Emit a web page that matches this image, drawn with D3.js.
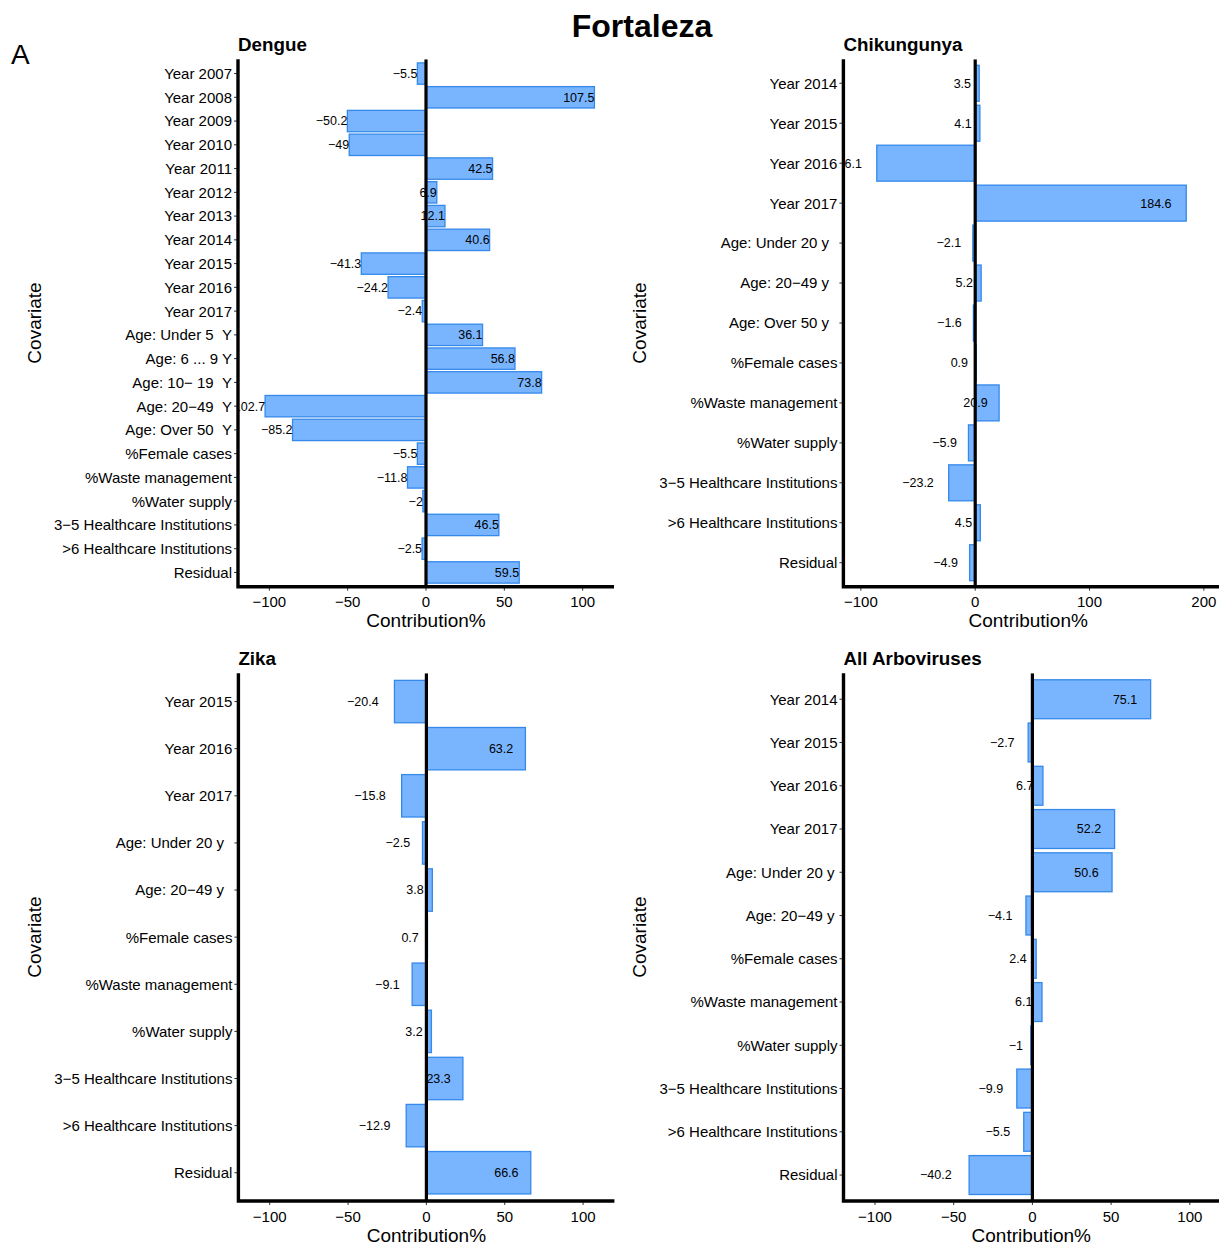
<!DOCTYPE html>
<html>
<head>
<meta charset="utf-8">
<script src="https://cdn.jsdelivr.net/npm/d3@7"></script>
<style>
  html, body { margin: 0; padding: 0; background: #ffffff; }
  svg { display: block; }
  text { font-family: "Liberation Sans", Arial, Helvetica, sans-serif; fill: #000; }
</style>
</head>
<body>
<svg id="chart" width="1219" height="1246"></svg>
<script>
// Covariate contributions (%) to arbovirus cases in Fortaleza
const dengueCategories = ["Year 2007", "Year 2008", "Year 2009", "Year 2010", "Year 2011", "Year 2012",
  "Year 2013", "Year 2014", "Year 2015", "Year 2016", "Year 2017",
  "Age: Under 5\u00a0\u00a0Y", "Age: 6 ... 9 Y", "Age: 10\u2212 19\u00a0\u00a0Y", "Age: 20\u221249\u00a0\u00a0Y",
  "Age: Over 50\u00a0\u00a0Y", "%Female cases", "%Waste management", "%Water supply",
  "3\u22125 Healthcare Institutions", ">6 Healthcare Institutions", "Residual"];
const dengueValues = [-5.5, 107.5, -50.2, -49, 42.5, 6.9, 12.1, 40.6, -41.3, -24.2, -2.4,
  36.1, 56.8, 73.8, -102.7, -85.2, -5.5, -11.8, -2, 46.5, -2.5, 59.5];

const chikCategories = ["Year 2014", "Year 2015", "Year 2016", "Year 2017",
  "Age: Under 20 y\u00a0\u00a0", "Age: 20\u221249 y\u00a0\u00a0", "Age: Over 50 y\u00a0\u00a0",
  "%Female cases", "%Waste management", "%Water supply",
  "3\u22125 Healthcare Institutions", ">6 Healthcare Institutions", "Residual"];
const chikValues = [3.5, 4.1, -86.1, 184.6, -2.1, 5.2, -1.6, 0.9, 20.9, -5.9, -23.2, 4.5, -4.9];

const zikaCategories = ["Year 2015", "Year 2016", "Year 2017",
  "Age: Under 20 y\u00a0\u00a0", "Age: 20\u221249 y\u00a0\u00a0",
  "%Female cases", "%Waste management", "%Water supply",
  "3\u22125 Healthcare Institutions", ">6 Healthcare Institutions", "Residual"];
const zikaValues = [-20.4, 63.2, -15.8, -2.5, 3.8, 0.7, -9.1, 3.2, 23.3, -12.9, 66.6];

const arboCategories = ["Year 2014", "Year 2015", "Year 2016", "Year 2017",
  "Age: Under 20 y\u2009", "Age: 20\u221249 y\u2009",
  "%Female cases", "%Waste management", "%Water supply",
  "3\u22125 Healthcare Institutions", ">6 Healthcare Institutions", "Residual"];
const arboValues = [75.1, -2.7, 6.7, 52.2, 50.6, -4.1, 2.4, 6.1, -1, -9.9, -5.5, -40.2];

const ticksA = [-100, -50, 0, 50, 100];
const ticksB = [-100, 0, 100, 200];

const svg = d3.select("#chart");
svg.append("rect").attr("width", 1219).attr("height", 1246).attr("fill", "#fff");

const fmtNum = v => (v < 0 ? "\u2212" : "") + String(Math.abs(v));

const panels = [
  { id: "p1", title: "Dengue", cats: dengueCategories, vals: dengueValues, ticks: ticksA,
    x0: 238, x1: 614, y0: 59.3, y1: 586.7, domain: [-120, 120], shift: 0, ytitleX: 41 },
  { id: "p2", title: "Chikungunya", cats: chikCategories, vals: chikValues, ticks: ticksB,
    x0: 843.4, x1: 1221, y0: 59.3, y1: 586.7, domain: [-115.3, 215], shift: 0.47, ytitleX: 646 },
  { id: "p3", title: "Zika", cats: zikaCategories, vals: zikaValues, ticks: ticksA,
    x0: 238.4, x1: 614.4, y0: 673.3, y1: 1201, domain: [-120, 120], shift: 0.5, ytitleX: 41 },
  { id: "p4", title: "All Arboviruses", cats: arboCategories, vals: arboValues, ticks: ticksA,
    x0: 843.5, x1: 1221.3, y0: 673.3, y1: 1201, domain: [-120, 120], shift: 0.55, ytitleX: 646 }
];

const barFill = "#79b5ff";
const barStroke = "#3589ea";

panels.forEach(p => {
  const x = d3.scaleLinear().domain(p.domain).range([p.x0, p.x1]);
  const y = d3.scalePoint().domain(p.cats).range([p.y0, p.y1]).padding(0.6);
  const bh = y.step() * 0.9;
  const g = svg.append("g");

  svg.append("clipPath").attr("id", "clip-" + p.id)
    .append("rect").attr("x", p.x0).attr("y", p.y0)
    .attr("width", p.x1 - p.x0).attr("height", p.y1 - p.y0);

  const data = p.cats.map((c, i) => ({ c, v: p.vals[i] }));
  const plot = g.append("g").attr("clip-path", `url(#clip-${p.id})`);

  plot.selectAll("rect.bar").data(data).join("rect")
    .attr("class", "bar")
    .attr("x", d => x(Math.min(0, d.v)))
    .attr("width", d => Math.abs(x(d.v) - x(0)))
    .attr("y", d => y(d.c) - bh / 2)
    .attr("height", bh)
    .attr("fill", barFill)
    .attr("stroke", barStroke)
    .attr("stroke-width", 1.3);

  plot.selectAll("text.val").data(data).join("text")
    .attr("class", "val")
    .attr("x", d => x(d.v))
    .attr("y", d => y(d.c))
    .attr("dy", "0.35em")
    .attr("text-anchor", "end")
    .style("font-size", "12.5px")
    .text(d => fmtNum(d.v))
    .each(function () {
      const w = this.getComputedTextLength();
      d3.select(this).attr("dx", -p.shift * w);
    });

  // zero reference line
  plot.append("line")
    .attr("x1", x(0)).attr("x2", x(0))
    .attr("y1", p.y0).attr("y2", p.y1)
    .attr("stroke", "#000").attr("stroke-width", 3.2);

  // y axis: ticks and labels
  const yAxis = g.append("g");
  yAxis.selectAll("line").data(p.cats).join("line")
    .attr("x1", p.x0 - 4).attr("x2", p.x0)
    .attr("y1", d => y(d)).attr("y2", d => y(d))
    .attr("stroke", "#333").attr("stroke-width", 1);
  yAxis.selectAll("text").data(p.cats).join("text")
    .attr("x", p.x0 - 6)
    .attr("y", d => y(d))
    .attr("dy", "0.36em")
    .attr("text-anchor", "end")
    .style("font-size", "15px")
    .style("white-space", "pre")
    .text(d => d);

  // x axis: ticks and labels
  const xAxis = g.append("g");
  xAxis.selectAll("line").data(p.ticks).join("line")
    .attr("x1", d => x(d)).attr("x2", d => x(d))
    .attr("y1", p.y1).attr("y2", p.y1 + 4)
    .attr("stroke", "#333").attr("stroke-width", 1);
  xAxis.selectAll("text").data(p.ticks).join("text")
    .attr("x", d => x(d))
    .attr("y", p.y1 + 20.5)
    .attr("text-anchor", "middle")
    .style("font-size", "15px")
    .text(d => fmtNum(d));

  // axis lines
  g.append("path")
    .attr("d", `M${p.x0},${p.y0}V${p.y1}H${Math.min(p.x1, 1219)}`)
    .attr("fill", "none").attr("stroke", "#000").attr("stroke-width", 3.4);

  // titles
  g.append("text").attr("x", p.x0).attr("y", p.y0 - 8)
    .style("font-size", "18.8px").style("font-weight", "bold")
    .text(p.title);
  g.append("text")
    .attr("x", (p.x0 + Math.min(p.x1, 1219)) / 2 + (p.id === "p2" ? -3 : 0))
    .attr("y", p.y1 + 40.5)
    .attr("text-anchor", "middle")
    .style("font-size", "19px")
    .text("Contribution%");
  g.append("text")
    .attr("transform", `translate(${p.ytitleX},${(p.y0 + p.y1) / 2}) rotate(-90)`)
    .attr("text-anchor", "middle")
    .style("font-size", "19px")
    .text("Covariate");
});

svg.append("text").attr("x", 642).attr("y", 37)
  .attr("text-anchor", "middle")
  .style("font-size", "32px").style("font-weight", "bold")
  .text("Fortaleza");
svg.append("text").attr("x", 11).attr("y", 64)
  .style("font-size", "28px")
  .text("A");
</script>
</body>
</html>
